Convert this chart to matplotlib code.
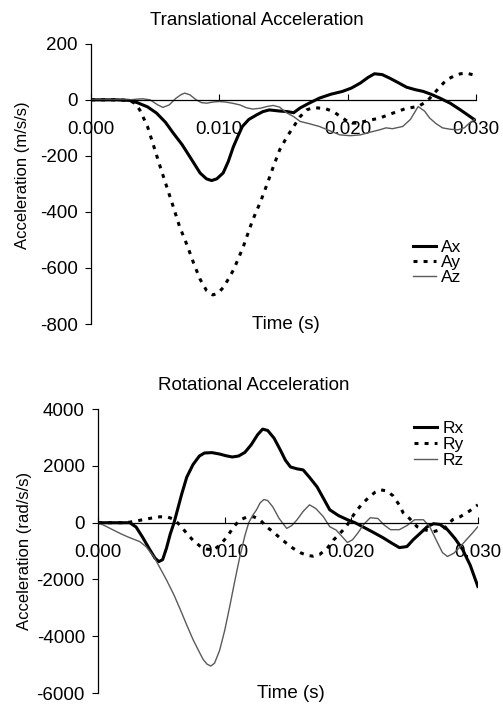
import matplotlib
matplotlib.use("Agg")
import matplotlib.pyplot as plt

plt.rcParams['font.family'] = ['Liberation Sans', 'DejaVu Sans']

# ---------------- Translational data (m/s/s) ----------------
t_ax = [0.0, 0.0010, 0.0020, 0.0030, 0.0036, 0.0044, 0.0051, 0.0058, 0.0064, 0.0071, 0.0077,
        0.0085, 0.0090, 0.0094, 0.0098, 0.0103, 0.0107, 0.0111, 0.0115, 0.0118, 0.0123,
        0.0129, 0.0134, 0.0139, 0.0147, 0.0153, 0.0158, 0.0163, 0.0170, 0.0178, 0.0187,
        0.0196, 0.0203, 0.0210, 0.0216, 0.0221, 0.0227, 0.0233, 0.0240, 0.0246, 0.0253,
        0.0259, 0.0265, 0.0272, 0.0280, 0.0288, 0.0294, 0.0299]
ax_vals = [0, 0, 0, -2, -10, -25, -47, -80, -118, -160, -203,
           -261, -282, -288, -282, -261, -220, -167, -125, -95, -70,
           -54, -42, -36, -40, -42, -46, -29, -12, 6, 20,
           30, 42, 60, 80, 93, 90, 77, 60, 45, 36,
           30, 20, 6, -12, -36, -55, -71]

t_ay = [0.0, 0.0010, 0.0020, 0.0030, 0.0034, 0.0038, 0.0044, 0.0049, 0.0054, 0.0059, 0.0064,
        0.0069, 0.0075, 0.0080, 0.0085, 0.0090, 0.0095, 0.0099, 0.0103, 0.0107, 0.0111,
        0.0115, 0.0119, 0.0126, 0.0132, 0.0137, 0.0142, 0.0147, 0.0153, 0.0158, 0.0163,
        0.0168, 0.0173, 0.0177, 0.0183, 0.0189, 0.0196, 0.0202, 0.0208, 0.0215, 0.0225,
        0.0235, 0.0246, 0.0255, 0.0262, 0.0270, 0.0277, 0.0283, 0.0288, 0.0293, 0.0298]
ay_vals = [0, 0, 0, -2, -12, -36, -95, -167, -240, -310, -380,
           -452, -520, -583, -640, -680, -696, -690, -670, -640, -607,
           -565, -520, -429, -365, -304, -240, -179, -130, -95, -60,
           -36, -28, -29, -32, -42, -65, -83, -83, -75, -65,
           -48, -30, -24, -5, 36, 71, 85, 93, 95, 89]

t_az = [0.0, 0.0020, 0.0030, 0.0035, 0.0040, 0.0046, 0.0052, 0.0056, 0.0061, 0.0066, 0.0070,
        0.0073, 0.0077, 0.0082, 0.0086, 0.0090, 0.0095, 0.0100, 0.0105, 0.0110, 0.0116,
        0.0121, 0.0126, 0.0132, 0.0137, 0.0142, 0.0147, 0.0152, 0.0158, 0.0163, 0.0170,
        0.0178, 0.0186, 0.0194, 0.0202, 0.0210, 0.0218, 0.0225, 0.0230, 0.0235, 0.0243,
        0.0249, 0.0255, 0.0260, 0.0264, 0.0269, 0.0274, 0.0280, 0.0286, 0.0291, 0.0295, 0.0299]
az_vals = [0, 0, 0, 2, 4, 0, -18, -27, -18, 5, 18,
           24, 18, 0, -10, -12, -8, -6, -8, -12, -18,
           -28, -33, -30, -24, -20, -26, -45, -60, -77, -85,
           -95, -110, -125, -128, -125, -115, -107, -100, -103, -95,
           -70, -24, -40, -65, -85, -100, -105, -107, -100, -83, -70]

# ---------------- Rotational data (rad/s/s) ----------------
t_rx = [0.0, 0.0010, 0.0020, 0.0025, 0.0030, 0.0035, 0.0041, 0.0045, 0.0048, 0.0051, 0.0054,
        0.0057, 0.0060, 0.0063, 0.0066, 0.0070, 0.0075, 0.0080, 0.0084, 0.0090, 0.0096,
        0.0101, 0.0106, 0.0111, 0.0116, 0.0121, 0.0126, 0.0130, 0.0134, 0.0139, 0.0144,
        0.0148, 0.0152, 0.0157, 0.0162, 0.0167, 0.0173, 0.0178, 0.0183, 0.0190, 0.0197,
        0.0203, 0.0209, 0.0217, 0.0225, 0.0232, 0.0238, 0.0244, 0.0249, 0.0255, 0.0260,
        0.0265, 0.0270, 0.0276, 0.0282, 0.0288, 0.0294, 0.0300]
rx_vals = [0, 0, 0, 0, -150, -500, -960, -1250, -1370, -1300, -900,
           -400, 0, 500, 1000, 1600, 2050, 2350, 2456, 2470, 2420,
           2360, 2316, 2350, 2480, 2750, 3100, 3298, 3250, 2980, 2560,
           2200, 1965, 1900, 1860, 1600, 1263, 860, 456, 250, 105,
           0, -140, -330, -526, -720, -877, -840, -596, -350, -140,
           -35, -60, -245, -560, -947, -1500, -2245]

t_ry = [0.0, 0.0020, 0.0025, 0.0030, 0.0036, 0.0043, 0.0049, 0.0055, 0.0060, 0.0065, 0.0070,
        0.0075, 0.0081, 0.0086, 0.0091, 0.0096, 0.0102, 0.0107, 0.0112, 0.0117, 0.0123,
        0.0128, 0.0133, 0.0139, 0.0144, 0.0149, 0.0154, 0.0160, 0.0165, 0.0170, 0.0175,
        0.0181, 0.0186, 0.0191, 0.0196, 0.0200, 0.0204, 0.0209, 0.0214, 0.0219, 0.0223,
        0.0228, 0.0233, 0.0238, 0.0241, 0.0246, 0.0252, 0.0258, 0.0265, 0.0270, 0.0275,
        0.0280, 0.0286, 0.0293, 0.0300]
ry_vals = [0, 0, 20, 60, 110, 170, 210, 200, 120, -100, -374,
           -620, -842, -930, -960, -800, -490, -150, 100, 190, 210,
           100, -140, -350, -550, -730, -900, -1060, -1150, -1180, -1120,
           -900, -608, -380, -140, 150, 420, 678, 900, 1080, 1160,
           1120, 950, 620, 350, 150, -140, -250, -316, -250, -140,
           105, 210, 400, 630]

t_rz = [0.0, 0.0006, 0.0012, 0.0018, 0.0023, 0.0028, 0.0033, 0.0038, 0.0044, 0.0049, 0.0054,
        0.0060, 0.0065, 0.0070, 0.0075, 0.0080, 0.0083, 0.0086, 0.0089, 0.0092, 0.0096,
        0.0100, 0.0104, 0.0108, 0.0112, 0.0116, 0.0119, 0.0122, 0.0125, 0.0128, 0.0131,
        0.0134, 0.0138, 0.0143, 0.0149, 0.0153, 0.0157, 0.0162, 0.0167, 0.0172, 0.0178,
        0.0183, 0.0188, 0.0193, 0.0197, 0.0201, 0.0205, 0.0210, 0.0215, 0.0221, 0.0226,
        0.0231, 0.0238, 0.0244, 0.0250, 0.0257, 0.0262, 0.0267, 0.0272, 0.0276, 0.0281,
        0.0286, 0.0291, 0.0296, 0.0300]
rz_vals = [0, -120, -257, -390, -490, -580, -667, -850, -1193, -1600, -2012,
           -2550, -3064, -3600, -4117, -4560, -4818, -4980, -5050, -4950, -4500,
           -3800, -2950, -2050, -1193, -450, 0, 250, 444, 700, 819,
           780, 561, 150, -200, -100, 94, 400, 630, 500, 210,
           -140, -257, -500, -700, -600, -374, -50, 175, 150, -82,
           -245, -245, -100, 105, 105, -140, -600, -1050, -1190, -1076,
           -850, -596, -350, -140]

x_ticks = [0.000, 0.010, 0.020, 0.030]
x_ticklabels = ["0.000", "0.010", "0.020", "0.030"]
y1_ticks = [200, 0, -200, -400, -600, -800]
y2_ticks = [4000, 2000, 0, -2000, -4000, -6000]

fig = plt.figure(figsize=(5.03, 7.06), dpi=100)

dot_style = (0, (1.3, 2.0))
gray = '#5a5a5a'
FS = 13.5


def style_axes(ax, yticks, title, ylabel, title_x, ylab_xy):
    ax.spines['top'].set_visible(False)
    ax.spines['right'].set_visible(False)
    ax.spines['bottom'].set_position(('data', 0))
    ax.spines['bottom'].set_linewidth(0.9)
    ax.spines['left'].set_linewidth(0.9)
    ax.set_xlim(0, 0.030)
    ax.set_ylim(yticks[-1], yticks[0])
    ax.set_yticks(yticks)
    ax.set_yticklabels([str(v) for v in yticks])
    ax.set_xticks(x_ticks)
    ax.set_xticklabels(x_ticklabels)
    ax.tick_params(axis='x', direction='in', length=4, width=0.8, pad=15.5, labelsize=FS)
    ax.tick_params(axis='y', direction='out', length=4.5, width=0.8, pad=5, labelsize=FS)
    ax.set_title(title, fontsize=FS, pad=13.5, x=title_x)
    ax.set_ylabel(ylabel, fontsize=12)
    ax.yaxis.set_label_coords(*ylab_xy)
    ax.text(0.507, 0.0, "Time (s)", transform=ax.transAxes, ha='center', va='center', fontsize=FS)


ax1 = fig.add_axes([0.181, 0.541, 0.765, 0.397])
ax1.plot(t_ax, ax_vals, color='black', lw=2.2, label='Ax')
ax1.plot(t_ay, ay_vals, color='black', lw=2.2, linestyle=dot_style, label='Ay')
ax1.plot(t_az, az_vals, color=gray, lw=1.0, label='Az')
style_axes(ax1, y1_ticks, "Translational Acceleration", "Acceleration (m/s/s)", 0.431, (-0.158, 0.532))
ax1.legend(loc='center right', bbox_to_anchor=(0.985, 0.22), frameon=False, fontsize=12.5,
           handlelength=1.3, handletextpad=0.3, labelspacing=0.0, borderpad=0)

ax2 = fig.add_axes([0.195, 0.0184, 0.755, 0.402])
ax2.plot(t_rx, rx_vals, color='black', lw=2.2, label='Rx')
ax2.plot(t_ry, ry_vals, color='black', lw=2.2, linestyle=dot_style, label='Ry')
ax2.plot(t_rz, rz_vals, color=gray, lw=1.0, label='Rz')
style_axes(ax2, y2_ticks, "Rotational Acceleration", "Acceleration (rad/s/s)", 0.41, (-0.174, 0.5))
ax2.legend(loc='center right', bbox_to_anchor=(0.985, 0.877), frameon=False, fontsize=12.5,
           handlelength=1.3, handletextpad=0.3, labelspacing=0.05, borderpad=0)

fig.savefig("out.png", dpi=100)
